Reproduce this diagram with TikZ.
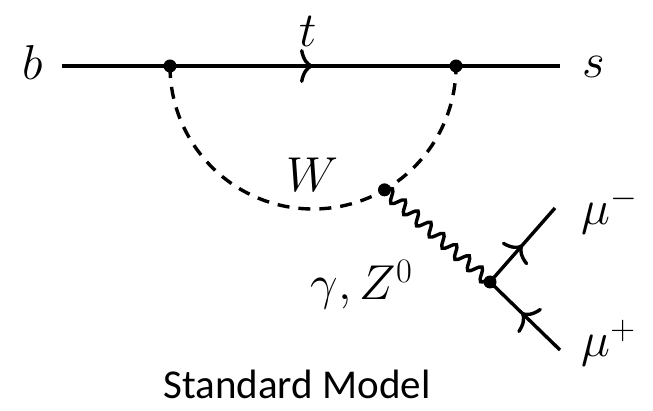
\RequirePackage{fix-cm}
\documentclass[tikz,border=0pt]{standalone}
\usepackage{fontspec}
\newfontfamily\calibri{Carlito}
\usetikzlibrary{positioning,arrows.meta,calc,decorations.pathmorphing,decorations.markings}

\tikzset{
  vertex/.style={circle, fill=black, inner sep=0pt, minimum size=13pt},
  fermion/.style={line width=3.4pt},
  fermionarrow/.style={fermion, postaction={decorate},
    decoration={markings, mark=at position #1 with
      {\arrow{Computer Modern Rightarrow[length=13pt,width=34pt]}}}},
  fermionarrow/.default=0.5,
  scalar/.style={line width=3.4pt, dash pattern=on 12pt off 9pt},
  photon/.style={line width=3.4pt, decorate,
    decoration={snake, segment length=17pt, amplitude=6pt}},
  lbl/.style={anchor=base, font=\fontsize{49}{52}\selectfont},
}

\begin{document}
\begin{tikzpicture}[x=1pt, y=-1pt]
\useasboundingbox (0,0) rectangle (653,411);

% quark line b -> s with top loop
\coordinate (bin) at (62,66);
\coordinate (sout) at (560,66);
\node[vertex] (v1) at (170,66) {};
\node[vertex] (v2) at (456,66) {};
\draw[fermion] (bin) -- (v1.center);
\draw[fermionarrow=0.5] (v1.center) -- (v2.center);
\draw[fermion] (v2.center) -- (sout);
\node[lbl] (blbl) at (33,80) {$b$};
\node[lbl] (slbl) at (594,78) {$s$};
\node[lbl] (tlbl) at (308,47) {$t$};

% W loop and photon / Z emission
\coordinate (loopc) at (313,66);
\node[vertex] (vw) at ($(loopc)+(60:143)$) {};
\draw[scalar] (v1.center) arc[start angle=180, end angle=0, radius=143];
\node[lbl] (wlbl) at (312,192) {$W$};
\node[vertex] (vz) at (490,282) {};
\draw[photon] (vw.center) -- (vz.center);
\node[lbl, anchor=base east] (zlbl) at (416,300) {$\gamma, Z^0$};

% muon pair
\coordinate (mminus) at (555,208);
\coordinate (mplus) at (560,350);
\draw[fermionarrow] (vz.center) -- (mminus);
\draw[fermionarrow=0.55] (mplus) -- (vz.center);
\node[lbl, anchor=base west] (mmlbl) at (578,225) {$\mu^-$};
\node[lbl, anchor=base west] (mplbl) at (578,357) {$\mu^+$};

\node[anchor=base, font=\calibri\fontsize{41}{44}\selectfont] (title) at (297,398) {Standard Model};
\end{tikzpicture}
\end{document}
